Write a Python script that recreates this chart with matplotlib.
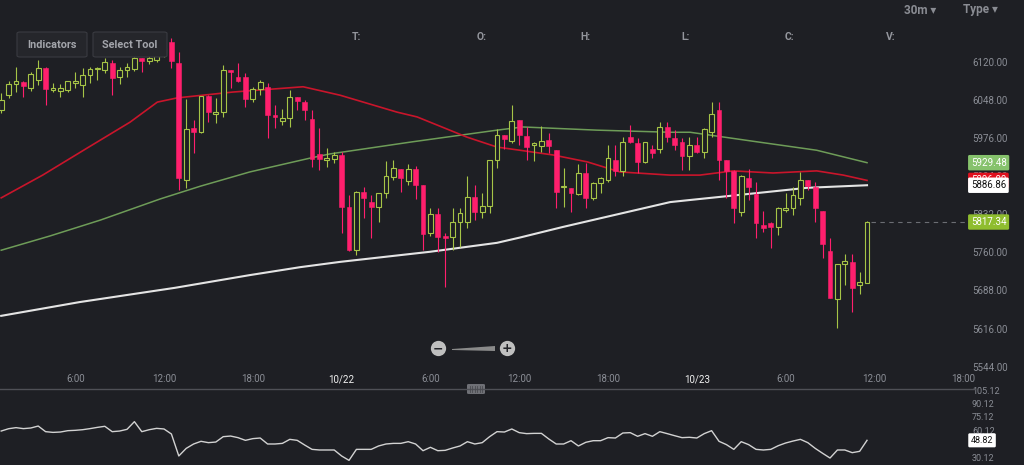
import matplotlib
matplotlib.use('Agg')
import matplotlib.pyplot as plt
from matplotlib.patches import Rectangle, FancyBboxPatch, Polygon
from matplotlib.lines import Line2D
from matplotlib.ticker import FormatStrFormatter
import matplotlib.transforms as mtransforms
import numpy as np
import pandas as pd

plt.rcParams['font.family'] = ['Roboto', 'DejaVu Sans']

# ---------------- data ----------------
times = pd.date_range('2018-10-21 01:00', periods=118, freq='30min')

open_ = [6029, 6057, 6078, 6082, 6071, 6086, 6109, 6067, 6065, 6067,
         6080, 6076, 6095, 6106, 6104, 6118, 6092, 6105, 6107, 6128,
         6121, 6124, 6137, 6158, 6118, 5897, 5995, 5988, 6056, 6022,
         6026, 6105, 6092, 6092, 6050, 6069, 6073, 6020, 6008, 6014,
         6054, 6044, 6012, 5946, 5934, 5936, 5944, 5846, 5764, 5874,
         5855, 5846, 5872, 5902, 5917, 5895, 5917, 5887, 5797, 5832,
         5791, 5789, 5817, 5817, 5865, 5836, 5848, 5935, 5982, 5970,
         6010, 5980, 5963, 5961, 5972, 5954, 5884, 5882, 5870, 5910,
         5863, 5891, 5897, 5934, 5914, 5978, 5967, 5931, 5955, 5955,
         5997, 5976, 5969, 5942, 5963, 5950, 5988, 6029, 5935, 5914,
         5836, 5900, 5870, 5812, 5816, 5808, 5840, 5844, 5863, 5897,
         5884, 5838, 5763, 5672, 5738, 5742, 5698, 5702]
high = [6061, 6083, 6110, 6084, 6101, 6124, 6110, 6081, 6078, 6084,
        6101, 6108, 6110, 6111, 6128, 6124, 6111, 6118, 6130, 6128,
        6137, 6145, 6152, 6165, 6138, 6050, 6010, 6056, 6058, 6052,
        6114, 6105, 6118, 6099, 6073, 6086, 6080, 6039, 6031, 6067,
        6054, 6048, 6029, 5995, 5957, 5950, 5950, 5868, 5876, 5884,
        5868, 5872, 5933, 5934, 5917, 5927, 5923, 5887, 5844, 5844,
        5797, 5844, 5844, 5904, 5887, 5872, 5935, 5993, 5982, 6038,
        6010, 5997, 5969, 5999, 5986, 5954, 5919, 5882, 5927, 5929,
        5893, 5902, 5963, 5963, 5978, 6001, 5976, 5969, 5963, 6006,
        6006, 5991, 5976, 5978, 5978, 5995, 6044, 6044, 5935, 5916,
        5906, 5918, 5893, 5838, 5818, 5846, 5872, 5884, 5912, 5897,
        5893, 5838, 5787, 5738, 5757, 5757, 5723, 5819]
low = [6023, 6051, 6063, 6054, 6065, 6076, 6039, 6064, 6054, 6063,
       6071, 6054, 6080, 6086, 6099, 6057, 6078, 6092, 6102, 6101,
       6116, 6120, 6130, 6108, 5878, 5882, 5948, 5986, 6006, 6005,
       6016, 6071, 6082, 6035, 6044, 6057, 5976, 5995, 6001, 5997,
       6029, 6010, 5921, 5916, 5921, 5929, 5797, 5762, 5755, 5825,
       5787, 5817, 5863, 5897, 5874, 5887, 5861, 5764, 5791, 5761,
       5695, 5764, 5770, 5806, 5821, 5825, 5834, 5919, 5955, 5967,
       5963, 5935, 5933, 5950, 5948, 5844, 5846, 5836, 5868, 5844,
       5859, 5872, 5893, 5904, 5904, 5967, 5910, 5929, 5938, 5948,
       5969, 5954, 5916, 5916, 5948, 5938, 5978, 5897, 5863, 5816,
       5829, 5859, 5787, 5799, 5768, 5793, 5836, 5831, 5850, 5878,
       5817, 5749, 5674, 5617, 5698, 5647, 5681, 5702]
close = [6048, 6078, 6084, 6074, 6097, 6108, 6069, 6071, 6071, 6084,
         6084, 6095, 6106, 6109, 6120, 6090, 6105, 6111, 6127, 6122,
         6128, 6137, 6146, 6121, 5900, 5993, 5988, 6056, 6026, 6026,
         6105, 6100, 6084, 6050, 6069, 6082, 6020, 6016, 6014, 6054,
         6046, 6029, 5936, 5936, 5938, 5944, 5846, 5764, 5874, 5863,
         5846, 5872, 5904, 5919, 5901, 5917, 5887, 5795, 5832, 5789,
         5787, 5817, 5834, 5865, 5836, 5848, 5935, 5982, 5974, 6008,
         5982, 5959, 5967, 5970, 5961, 5874, 5886, 5872, 5910, 5863,
         5891, 5900, 5938, 5914, 5969, 5969, 5931, 5969, 5948, 5997,
         5978, 5963, 5942, 5963, 5950, 5993, 6021, 5935, 5914, 5844,
         5904, 5884, 5816, 5806, 5808, 5844, 5844, 5868, 5897, 5886,
         5844, 5776, 5674, 5738, 5744, 5693, 5704, 5817.34]

# moving averages (knots: candle index, price)
red_idx = [0, 5.6, 11.6, 17.4, 21.1, 23.8, 31.3, 40.8, 45.8, 53.5, 56.2, 62.9,
           67, 70.1, 74.6, 79.2, 83.6, 90.4, 94.4, 98.9, 104.3, 110.2, 113.8, 117]
red_val = [5863, 5906, 5957, 6006, 6044, 6052, 6063, 6073, 6057, 6025, 6016, 5978,
           5959, 5953, 5944, 5931, 5912, 5906, 5906, 5914, 5910, 5914, 5906, 5896]
green_idx = [0, 6.6, 13.4, 21.5, 26.9, 33.6, 41.7, 44.4, 55.6, 67, 70.5, 80.5,
             90.4, 93.1, 102.1, 110.2, 117]
green_val = [5764, 5791, 5821, 5861, 5885, 5912, 5938, 5946, 5969, 5991, 5997, 5991,
             5987, 5987, 5969, 5953, 5929.48]
white_idx = [0, 10.6, 23.5, 33.6, 40.4, 45.8, 57.9, 67, 70.1, 75.9, 90.4, 93.1,
             102.1, 108.9, 117]
white_val = [5640, 5666, 5693, 5717, 5732, 5742, 5761, 5778, 5788, 5808, 5855, 5859,
             5872, 5882, 5886.86]

# lower indicator
ind = [59.2, 61.8, 63, 61.9, 62.6, 64.8, 58.5, 57.7, 58.1, 59.6,
       60, 60.7, 61.9, 63.3, 64.5, 58.5, 59.2, 61.1, 69.7, 58.5,
       60.7, 62.2, 61.5, 55.9, 31.3, 39.8, 44.7, 47.7, 46.2, 46.9,
       52.9, 53.6, 51.8, 48.8, 50.7, 51.4, 44.7, 44.7, 45.4, 49.9,
       48.8, 43.6, 38.7, 38, 38, 38, 31.3, 26.4, 38.7, 38.7,
       38.7, 42.5, 44.7, 45.4, 45.4, 47.3, 44.7, 37.2, 41, 37.2,
       37.6, 40.2, 42.5, 47.3, 44.7, 46.2, 52.9, 58.5, 58.1, 61.5,
       57.4, 56.3, 56.6, 56.6, 50.3, 44.7, 44.7, 48.4, 42.5, 46.6,
       48.4, 48.4, 51.8, 51.4, 57, 57.4, 53.3, 56.3, 53.3, 58.5,
       56.3, 54, 51.8, 52.2, 51.4, 56.3, 59.6, 47.7, 44, 38.7,
       47.3, 44, 38.7, 38, 38.7, 42.8, 45.8, 48, 49.9, 46.2,
       39.8, 34.3, 29, 38, 38, 35, 36.5, 48.82]

price_ticks = [5544, 5616, 5688, 5760, 5832, 5904, 5976, 6048, 6120]
ind_ticks = [30.12, 60.12, 75.12, 90.12, 105.12]
header_labels = ['T:', 'O:', 'H:', 'L:', 'C:', 'V:']

# ---------------- style ----------------
BG = '#1e1f24'
GREEN = '#a6c447'
RED = '#ff1f6d'
GREY = '#8b8e96'
W, H = 1024, 465

def fx(px):
    return px / W

def fy(py):
    return 1 - py / H

fig = plt.figure(figsize=(W / 100, H / 100), dpi=100, facecolor=BG)

ax = fig.add_axes([0, fy(389), 965 / W, 389 / H])
ax.set_facecolor(BG)
ax.set_xlim(-0.162, 130.24)
ax.set_ylim(5501.7, 6237)
for s in ax.spines.values():
    s.set_visible(False)

x = np.arange(len(open_))

# moving averages
ax.plot(white_idx, white_val, color='#e4e4e4', lw=1.5, zorder=2)
ax.plot(green_idx, green_val, color='#6e9c58', lw=1.1, zorder=2)
ax.plot(red_idx, red_val, color='#c9152b', lw=1.2, zorder=2)

# candles
bw = 0.66
for i in x:
    o, h, l, c = open_[i], high[i], low[i], close[i]
    up = c >= o
    col = GREEN if up else RED
    ax.vlines(i, l, h, color=col, lw=0.8, zorder=3)
    bot = min(o, c)
    ht = max(abs(c - o), 1.8)
    if up:
        ax.add_patch(Rectangle((i - bw / 2, bot), bw, ht, facecolor=BG,
                               edgecolor=col, lw=0.8, zorder=4))
    else:
        ax.add_patch(Rectangle((i - bw / 2, bot), bw, ht, facecolor=col,
                               edgecolor=col, lw=0.4, zorder=4))

# last price dashed line
ax.hlines(close[-1], x[-1] + 0.5, 130.3, colors='#6b6d73', lw=0.8,
          linestyles=(0, (4, 4)), zorder=2)

# y axis
ax.yaxis.tick_right()
ax.set_yticks(price_ticks)
ax.yaxis.set_major_formatter(FormatStrFormatter('%.2f'))
ax.tick_params(axis='y', length=0, pad=5, labelsize=7, labelcolor=GREY)

# x axis (inside)
tick_times = pd.date_range('2018-10-21 06:00', '2018-10-23 18:00', freq='6h')
tick_pos = (tick_times - times[0]) / pd.Timedelta('30min')
tick_lab = [f"{t.month}/{t.day}" if t.hour == 0 else f"{t.hour}:00" for t in tick_times]
ax.set_xticks(tick_pos)
ax.set_xticklabels(tick_lab)
ax.tick_params(axis='x', length=0, pad=-10.5, labelsize=7, labelcolor=GREY)
for t, lab in zip(tick_times, ax.get_xticklabels()):
    if t.hour == 0:
        lab.set_color('#f0f0f0')

# value boxes
btr = mtransforms.blended_transform_factory(ax.transAxes, ax.transData)
def vbox(axis, tr, val, fc, tc):
    axis.text(1.006, val, f"{val:.2f}", transform=tr, ha='left', va='center',
              fontsize=7, color=tc, clip_on=False, zorder=20,
              bbox=dict(boxstyle='round,pad=0.28,rounding_size=0.15', fc=fc, ec='none'))

vbox(ax, btr, green_val[-1], '#86c26c', 'white')
vbox(ax, btr, red_val[-1], '#e0101e', 'white')
vbox(ax, btr, white_val[-1], '#ffffff', '#111111')
vbox(ax, btr, close[-1], '#8fbd2f', 'white')

# ---------------- lower panel ----------------
ax2 = fig.add_axes([0, 0, 965 / W, 76 / H])
ax2.set_facecolor(BG)
ax2.set_xlim(-0.162, 130.24)
ax2.set_ylim(21.2, 106.24)
for s in ax2.spines.values():
    s.set_visible(False)
ax2.plot(x, ind, color='#d2d2d2', lw=1.0)
ax2.set_xticks([])
ax2.yaxis.tick_right()
ax2.set_yticks(ind_ticks)
ax2.yaxis.set_major_formatter(FormatStrFormatter('%.2f'))
ax2.tick_params(axis='y', length=0, pad=5, labelsize=6.5, labelcolor=GREY)
btr2 = mtransforms.blended_transform_factory(ax2.transAxes, ax2.transData)
ax2.text(1.006, ind[-1], f"{ind[-1]:.2f}", transform=btr2, ha='left', va='center',
         fontsize=6.5, color='#111111', clip_on=False, zorder=20,
         bbox=dict(boxstyle='round,pad=0.28,rounding_size=0.15', fc='white', ec='none'))

# separator line and handle
fig.add_artist(Line2D([0, fx(975)], [fy(389), fy(389)], color='#4f5056', lw=1.0))
fig.add_artist(FancyBboxPatch((fx(467), fy(394)), 18 / W, 10 / H,
                              boxstyle='round,pad=0,rounding_size=0.002',
                              fc='#6f7076', ec='none'))
for k in range(6):
    xx = 470 + k * 2.4
    fig.add_artist(Line2D([fx(xx), fx(xx)], [fy(392), fy(386)], color='#4a4b50', lw=0.6))

# buttons
for (x0, x1, label) in [(17, 87, 'Indicators'), (93, 167, 'Select Tool')]:
    fig.add_artist(FancyBboxPatch((fx(x0), fy(57)), (x1 - x0) / W, 25 / H,
                                  boxstyle='round,pad=0,rounding_size=0.003',
                                  fc='#25262b', ec='#3a3b41', lw=0.8))
    fig.text(fx((x0 + x1) / 2), fy(44.5), label, ha='center', va='center',
             fontsize=7.8, color='#a3a5ab', fontweight='bold')

# header labels
for px, lab in zip([356, 482, 585, 686, 789, 891], header_labels):
    fig.text(fx(px), fy(37), lab, ha='center', va='center', fontsize=7.5,
             color='#94969d', fontweight='bold')
fig.text(fx(920), fy(10), '30m ▾', ha='center', va='center', fontsize=8.5,
         color='#8a8c93', fontweight='bold')
fig.text(fx(980), fy(10), 'Type ▾', ha='center', va='center', fontsize=8.5,
         color='#8a8c93', fontweight='bold')

# zoom control
for px, sym in [(438, '−'), (507, '+')]:
    fig.add_artist(Line2D([fx(px)], [fy(348)], marker='o', ms=11, mfc='#bfbfbf',
                          mec='none', lw=0))
    fig.text(fx(px), fy(348.5), sym, ha='center', va='center', fontsize=9,
             color='#222328', fontweight='bold', family='DejaVu Sans')
fig.add_artist(Polygon([(fx(452), fy(349)), (fx(495), fy(346)), (fx(495), fy(351)),
                        (fx(452), fy(350))], closed=True, fc='#8a8a8a', ec='none'))

fig.savefig('out.png', dpi=100, facecolor=BG)
